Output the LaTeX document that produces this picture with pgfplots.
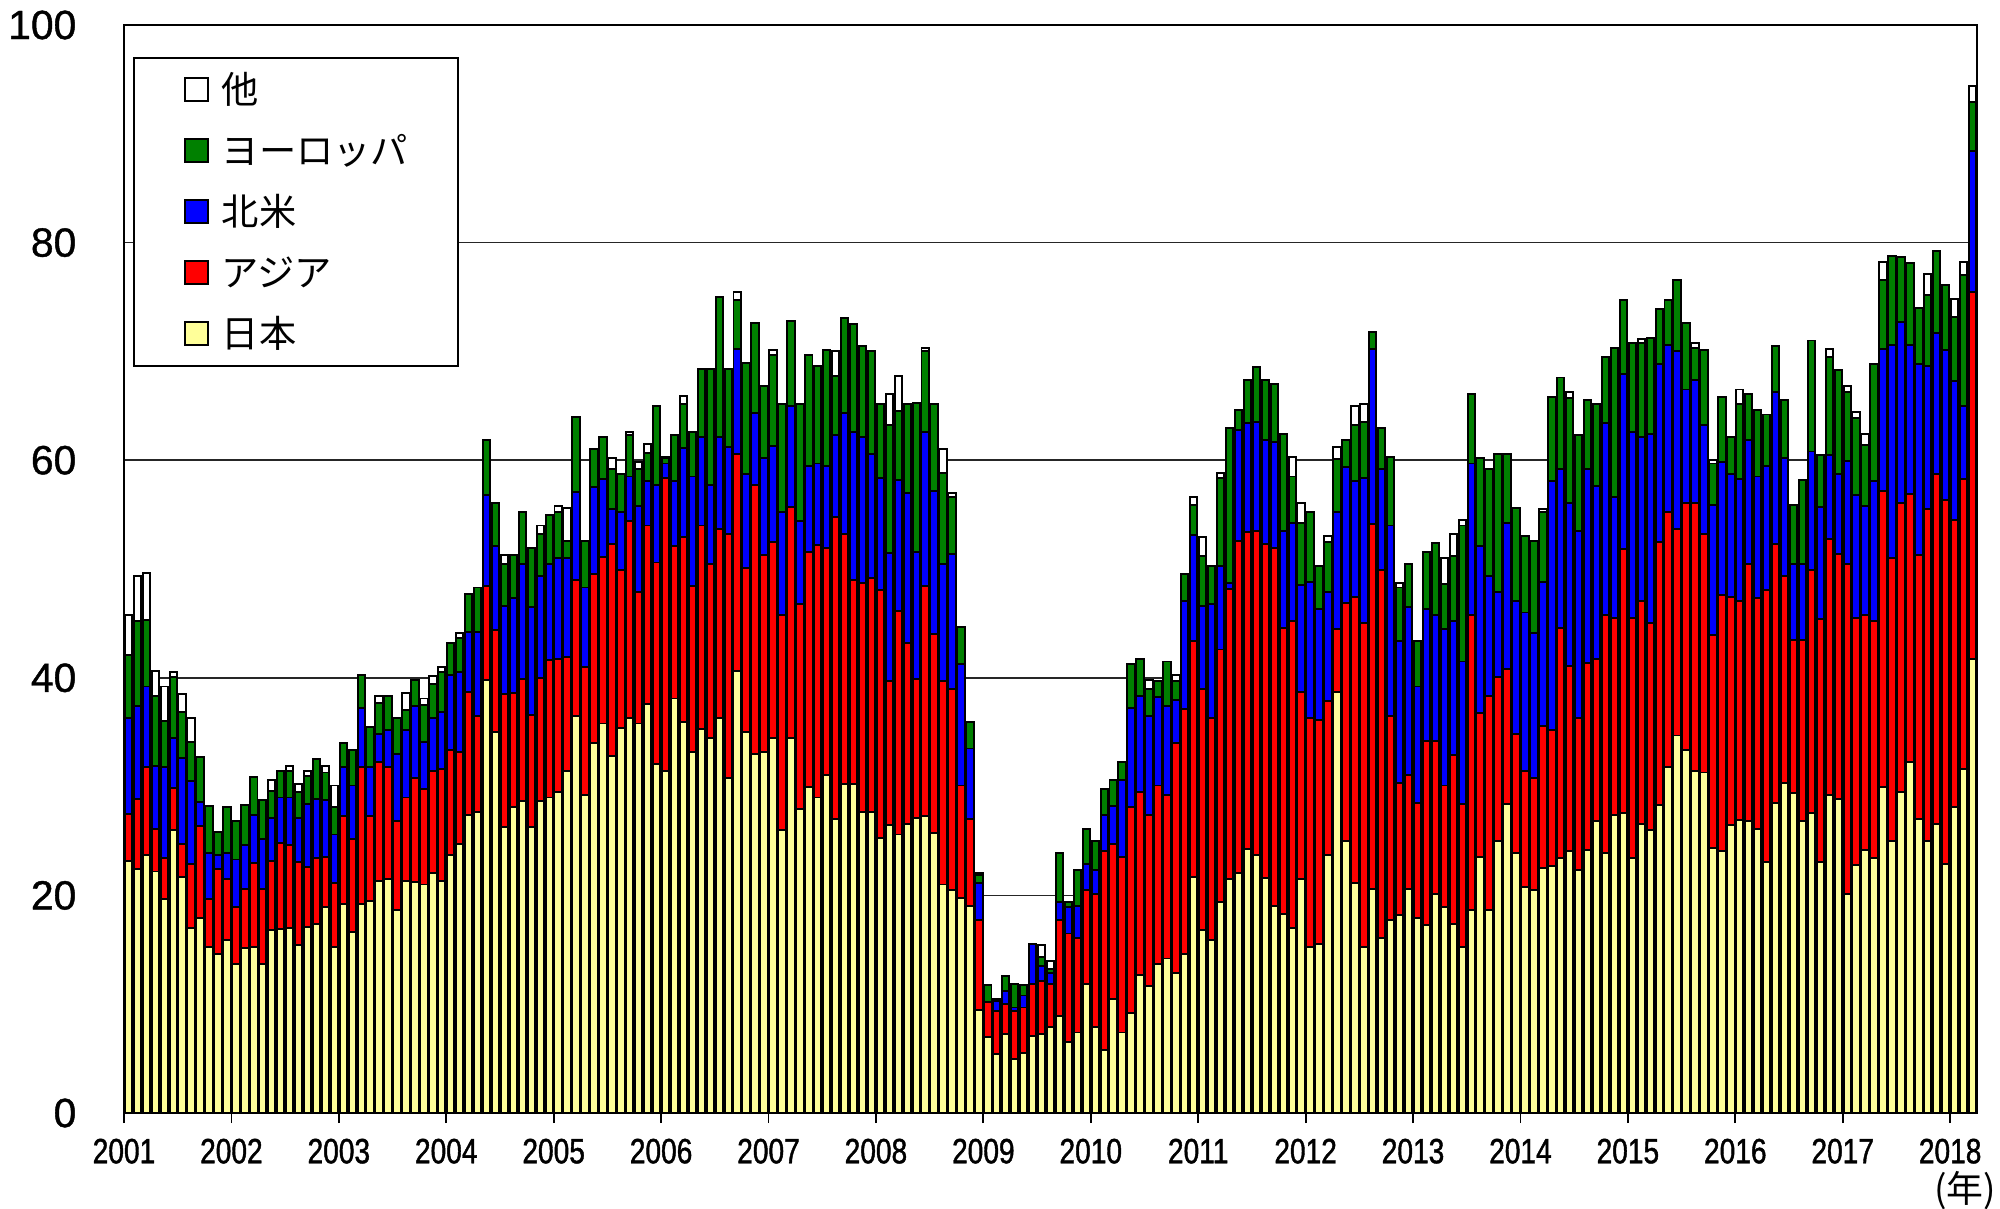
\documentclass[border=0pt]{standalone}
\usepackage{pgfplots}
\pgfplotsset{compat=1.18}
\usepackage{pgfplotstable}
\usepackage{fontspec}
\setmainfont{Liberation Sans}
\newfontfamily\cjk{Noto Sans CJK JP}
\newfontfamily\narrow[FakeStretch=0.8,FakeBold=1.2]{Liberation Sans}
\newfontfamily\ticks[FakeBold=1.0]{Liberation Sans}
\definecolor{cjp}{HTML}{FFFF99}
\definecolor{cas}{HTML}{FF0000}
\definecolor{cna}{HTML}{0000FF}
\definecolor{ceu}{HTML}{008000}
% cumulative tops: Y=Japan, R=+Asia, B=+North America, G=+Europe, W=+Other
\pgfplotstableread{
i Y R B G W
0 23.2 27.5 36.3 42.1 45.8
1 22.4 28.9 37.4 45.2 49.4
2 23.7 31.8 39.2 45.3 49.6
3 22.2 26.1 31.9 38.3 40.6
4 19.7 23.4 31.8 36.0 39.2
5 26.0 29.9 34.5 40.1 40.5
6 21.7 24.7 32.6 36.9 38.5
7 17.0 22.9 30.5 34.1 36.3
8 17.9 26.4 28.6 32.7 32.7
9 15.3 19.7 23.9 28.2 28.2
10 14.6 22.4 23.7 25.8 25.8
11 15.9 21.5 23.9 28.1 28.1
12 13.7 18.9 23.3 26.8 26.8
13 15.2 20.6 24.6 28.3 28.3
14 15.3 23.0 27.4 30.9 30.9
15 13.7 20.6 25.2 28.8 28.8
16 16.8 23.2 27.1 29.6 30.6
17 16.9 24.8 29.0 31.4 31.4
18 17.0 24.6 29.0 31.4 31.9
19 15.4 23.1 27.1 29.5 30.2
20 17.1 22.6 28.4 31.0 31.4
21 17.4 23.4 28.9 32.5 32.5
22 18.9 23.5 28.8 31.3 31.9
23 15.3 21.1 25.6 28.1 30.1
24 19.2 27.3 31.8 34.0 34.0
25 16.6 25.2 30.1 33.4 33.4
26 19.2 31.8 37.2 40.3 40.3
27 19.5 27.3 31.8 35.5 35.5
28 21.3 32.3 34.8 37.7 38.3
29 21.5 31.8 35.2 38.3 38.3
30 18.7 26.8 33.0 36.3 36.3
31 21.3 29.0 35.2 37.0 38.6
32 21.2 30.8 37.4 39.8 39.8
33 21.0 29.8 34.1 37.5 38.1
34 22.1 31.4 36.3 39.4 40.2
35 21.3 31.6 36.9 40.5 41.0
36 23.7 33.4 40.3 43.2 43.2
37 24.7 33.2 40.5 43.7 44.1
38 27.4 38.7 44.2 47.7 47.7
39 27.7 36.5 44.2 48.3 48.3
40 39.8 48.4 56.8 61.9 61.9
41 35.0 44.4 52.1 56.1 56.1
42 26.3 38.5 46.6 50.5 51.3
43 28.1 38.6 47.3 51.3 51.3
44 28.7 39.9 50.5 55.2 55.2
45 26.3 36.6 46.5 51.9 51.9
46 28.7 40.0 49.4 53.2 54.0
47 29.0 41.6 50.5 55.0 55.0
48 29.5 41.7 51.0 55.2 55.8
49 31.4 41.9 51.0 52.6 55.6
50 36.5 49.0 57.1 64.0 64.0
51 29.2 41.0 48.3 52.6 52.6
52 34.0 49.5 57.5 61.0 61.0
53 35.8 51.1 58.3 62.1 62.1
54 32.8 52.3 55.5 59.2 60.2
55 35.4 49.9 55.2 58.7 58.7
56 36.3 54.4 58.5 62.3 62.6
57 35.8 47.9 55.8 59.2 59.8
58 37.6 54.0 58.1 60.7 61.5
59 32.1 50.6 57.7 65.0 65.0
60 31.4 58.4 59.7 60.2 60.3
61 38.1 52.1 58.1 62.3 62.3
62 35.9 52.9 61.1 65.2 65.9
63 33.2 48.4 58.5 62.6 62.6
64 35.3 54.0 62.1 68.4 68.4
65 34.5 50.5 57.7 68.4 68.4
66 36.3 53.7 62.1 75.0 75.0
67 30.8 53.2 61.2 68.4 68.4
68 40.6 60.6 70.2 74.7 75.5
69 35.0 50.1 58.7 68.9 68.9
70 33.0 57.7 64.3 72.6 72.6
71 33.2 51.3 60.2 66.8 66.8
72 34.5 52.5 61.3 69.7 70.1
73 26.0 45.8 55.2 65.2 65.2
74 34.5 55.7 65.0 72.8 72.8
75 27.9 46.8 54.4 65.2 65.2
76 30.0 51.6 59.5 69.7 69.7
77 29.0 52.2 59.7 68.7 68.7
78 31.1 51.9 59.5 70.1 70.1
79 27.0 54.8 62.3 67.7 70.0
80 30.2 53.2 64.3 73.1 73.1
81 30.2 49.0 62.6 72.5 72.5
82 27.7 48.7 62.1 70.5 70.5
83 27.7 49.2 60.6 70.0 70.0
84 25.3 48.1 58.4 65.2 65.2
85 26.5 39.7 51.5 63.2 66.1
86 25.6 46.1 58.2 64.5 67.7
87 26.6 43.2 57.0 65.2 65.2
88 27.1 39.9 51.6 65.3 65.3
89 27.3 48.4 62.6 70.0 70.3
90 25.7 44.0 57.2 65.2 65.2
91 21.0 39.7 50.5 58.8 61.0
92 20.5 39.0 51.4 56.6 57.0
93 19.8 30.1 41.3 44.7 44.7
94 19.0 27.0 33.5 35.9 35.9
95 9.5 17.7 21.1 21.9 22.1
96 7.0 10.2 10.2 11.8 11.8
97 5.4 9.4 10.3 10.5 10.5
98 7.3 10.0 11.2 12.6 12.6
99 5.0 9.4 9.7 11.9 11.9
100 5.5 9.7 10.8 11.8 11.8
101 7.1 11.9 15.5 15.5 15.5
102 7.3 12.1 13.5 14.3 15.4
103 7.9 11.9 12.9 13.2 14.0
104 8.9 17.7 19.4 23.9 23.9
105 6.5 16.5 18.9 19.4 19.4
106 7.4 16.1 19.0 22.3 22.3
107 11.9 20.5 22.9 26.1 26.1
108 7.9 20.1 22.3 25.0 25.0
109 5.8 24.1 27.4 29.8 29.8
110 10.5 24.7 28.2 30.6 30.6
111 7.4 23.5 30.6 32.3 32.3
112 9.2 28.1 37.2 41.3 41.3
113 12.7 29.5 38.3 41.7 41.7
114 11.7 27.4 36.5 39.0 39.8
115 13.7 30.1 38.2 39.7 39.7
116 14.2 29.2 37.4 41.5 41.5
117 12.9 34.0 38.0 39.7 40.3
118 14.6 37.1 47.1 49.5 49.5
119 21.7 43.4 53.1 55.9 56.6
120 16.8 39.0 46.6 51.2 52.9
121 15.9 36.3 46.8 50.3 50.3
122 19.4 42.6 50.3 58.4 58.8
123 21.5 48.2 48.7 63.0 63.0
124 22.1 52.6 62.8 64.6 64.6
125 24.3 53.4 63.4 67.4 67.4
126 23.7 53.5 63.5 68.6 68.6
127 21.6 52.3 61.9 67.4 67.4
128 19.0 51.9 61.7 67.0 67.0
129 18.3 44.6 53.5 62.4 62.4
130 17.0 45.2 54.2 58.5 60.3
131 21.5 38.7 48.5 54.2 56.1
132 15.3 36.3 48.8 55.2 55.2
133 15.5 36.1 46.3 50.3 50.3
134 23.7 37.9 47.9 52.5 53.0
135 38.7 44.5 55.2 60.1 61.2
136 25.0 46.9 59.4 61.9 61.9
137 21.1 47.4 58.1 63.2 65.0
138 15.3 45.0 58.4 63.5 65.2
139 20.6 54.1 70.2 71.8 71.8
140 16.1 49.9 59.2 63.0 63.0
141 17.7 36.5 54.0 60.3 60.3
142 18.2 30.3 43.4 48.3 48.7
143 20.6 31.1 46.5 50.5 50.5
144 17.9 28.5 39.2 43.4 43.4
145 17.3 34.2 46.3 51.6 51.6
146 20.1 34.2 45.8 52.4 52.4
147 18.9 30.1 44.5 48.6 51.0
148 17.4 32.9 45.2 51.2 53.2
149 15.3 28.4 41.5 54.0 54.5
150 18.7 45.8 59.7 66.1 66.1
151 23.5 36.8 52.1 60.2 60.2
152 18.7 38.3 49.4 59.2 59.2
153 25.0 40.1 47.9 60.6 60.6
154 28.4 40.8 54.2 60.6 60.6
155 23.9 34.8 47.1 55.6 55.6
156 20.8 31.4 46.0 53.0 53.0
157 20.5 30.8 44.1 52.6 52.6
158 22.5 35.6 48.8 55.2 55.5
159 22.7 35.2 58.1 65.8 65.8
160 23.4 44.6 59.2 67.6 67.6
161 24.1 41.1 56.1 65.7 66.3
162 22.3 36.3 53.5 62.3 62.3
163 24.2 41.4 59.2 65.5 65.5
164 26.8 41.7 57.6 65.2 65.2
165 23.9 45.8 63.4 69.5 69.5
166 27.4 45.5 56.6 70.3 70.3
167 27.6 51.8 67.9 74.7 74.7
168 23.4 45.5 62.6 70.8 70.8
169 26.6 47.1 62.1 70.8 71.1
170 26.0 45.0 62.4 71.2 71.2
171 28.3 52.5 68.8 73.9 73.9
172 31.8 55.2 70.6 74.7 74.7
173 34.7 53.7 70.0 76.6 76.6
174 33.4 56.1 66.5 72.6 72.6
175 31.4 56.1 67.4 70.3 70.8
176 31.3 53.2 63.2 70.1 70.1
177 24.4 43.9 55.9 59.7 60.0
178 24.1 47.6 59.8 65.8 65.8
179 26.5 47.4 58.7 62.1 62.1
180 26.9 47.1 58.3 65.2 66.5
181 26.8 50.5 61.9 66.1 66.1
182 26.1 47.3 58.5 64.6 64.6
183 23.1 48.1 59.5 64.2 64.2
184 28.5 52.3 66.3 70.5 70.5
185 30.3 49.4 60.2 65.5 65.5
186 29.4 43.5 50.5 55.9 55.9
187 26.8 43.5 50.5 58.2 58.2
188 27.6 49.9 60.8 71.0 71.0
189 23.1 45.4 55.7 60.5 60.5
190 29.2 52.8 60.5 69.5 70.2
191 28.9 51.4 58.7 68.3 68.3
192 20.1 50.5 59.9 66.3 66.8
193 22.8 45.5 56.8 63.9 64.4
194 24.2 45.8 55.8 61.4 62.4
195 23.4 45.2 58.1 68.8 68.8
196 30.0 57.2 70.2 76.6 78.2
197 25.0 51.0 70.6 78.8 78.8
198 29.5 56.1 72.7 78.7 78.7
199 32.3 56.9 70.6 78.1 78.1
200 27.0 51.3 68.8 74.0 74.0
201 25.0 55.5 68.7 75.2 77.1
202 26.6 58.7 71.7 79.2 79.2
203 22.9 56.3 70.1 76.1 76.1
204 28.1 54.5 67.3 73.2 74.8
205 31.6 58.3 65.0 77.0 78.2
206 41.7 75.5 88.4 92.9 94.4
}\data

\begin{document}
\begin{tikzpicture}
\useasboundingbox (-1.24cm,-0.95cm) rectangle (18.76cm,11.13cm);
\begin{axis}[
  at={(0,0)}, anchor=south west,
  scale only axis, width=18.53cm, height=10.88cm,
  xmin=-0.5, xmax=206.5, ymin=0, ymax=100,
  xtick={-0.5,11.5,...,203.5},
  xticklabels={2001,2002,2003,2004,2005,2006,2007,2008,2009,2010,2011,2012,2013,2014,2015,2016,2017,2018},
  ytick={0,20,40,60,80,100},
  yticklabels={0,20,40,60,80,100},
  xtick pos=bottom,
  ymajorgrids, grid style={line width=0.45pt, black!85},
  axis line style={line width=0.6pt, black},
  tick align=outside, major tick length=0.1cm,
  xtick style={line width=0.5pt, black},
  ytick style={draw=none},
  xticklabel style={font=\narrow\fontsize{10}{11}\selectfont, anchor=north, inner sep=0pt, yshift=-0.15cm},
  yticklabel style={font=\ticks\fontsize{11.6}{13}\selectfont, anchor=east, inner sep=0pt, xshift=-0.37cm},
  every axis plot/.append style={ybar, bar width=0.82, bar shift=0pt, draw=black, line width=0.55pt},
  legend image code/.code={\draw[#1] (0cm,-0.115cm) rectangle (0.23cm,0.115cm);},
  legend cell align=left,
  legend style={at={(0.0049,0.9706)}, anchor=north west, draw=black, line width=0.5pt, fill=white,
    font=\cjk\fontsize{10.6}{12}\selectfont,
    inner xsep=0.5cm, inner ysep=0.12cm, row sep=0.21cm,
    nodes={inner sep=0pt, text height=0.34cm, text depth=0.06cm},
    /tikz/every odd column/.append style={column sep=0.13cm}},
]
\addplot[fill=white] table[x=i,y=W]{\data};
\addlegendentry{他}
\addplot[fill=ceu] table[x=i,y=G]{\data};
\addlegendentry{ヨーロッパ}
\addplot[fill=cna] table[x=i,y=B]{\data};
\addlegendentry{北米}
\addplot[fill=cas] table[x=i,y=R]{\data};
\addlegendentry{アジア}
\addplot[fill=cjp] table[x=i,y=Y]{\data};
\addlegendentry{日本}
\end{axis}
\node[font=\cjk\fontsize{10.5}{12}\selectfont, inner sep=0pt] at (18.41cm,-0.78cm) {(年)};
\end{tikzpicture}
\end{document}
